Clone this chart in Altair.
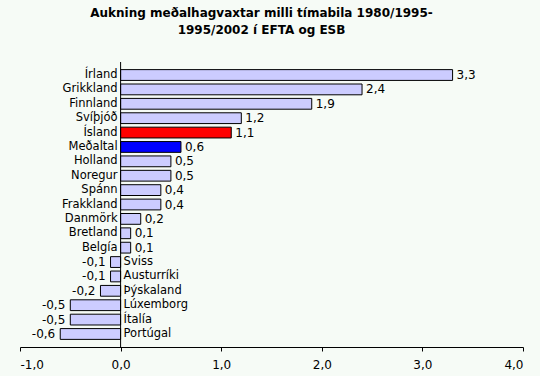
import altair as alt
import pandas as pd

lands = ["Írland", "Grikkland", "Finnland", "Svíþjóð", "Ísland", "Meðaltal",
         "Holland", "Noregur", "Spánn", "Frakkland", "Danmörk", "Bretland",
         "Belgía", "Sviss", "Austurríki", "Þýskaland", "Lúxemborg", "Ítalía",
         "Portúgal"]
values = [3.3, 2.4, 1.9, 1.2, 1.1, 0.6, 0.5, 0.5, 0.4, 0.4, 0.2, 0.1, 0.1,
          -0.1, -0.1, -0.2, -0.5, -0.5, -0.6]
x_ticks = [-1, 0, 1, 2, 3, 4]
title_lines = ["Aukning meðalhagvaxtar milli tímabila 1980/1995-",
               "1995/2002 í EFTA og ESB"]

df = pd.DataFrame({"land": lands, "gildi": values})
df["merki"] = [f"{v:.1f}".replace(".", ",") for v in values]

FONT = "DejaVu Sans"

base = alt.Chart(df).transform_calculate(
    grp="datum.land == 'Ísland' ? 'is' : (datum.land == 'Meðaltal' ? 'avg' : 'other')"
)

y_enc = alt.Y("land:N", sort=lands, axis=None,
              scale=alt.Scale(paddingInner=0.25, paddingOuter=0.53))
x_scale = alt.Scale(domain=[-1, 4], nice=False)

bars = base.mark_bar(stroke="black", strokeWidth=1).encode(
    x=alt.X("gildi:Q", scale=x_scale,
            axis=alt.Axis(values=x_ticks, title=None, grid=False,
                          domainColor="black", tickColor="black", tickSize=4,
                          labelColor="black", labelFont=FONT, labelFontSize=12,
                          labelPadding=8,
                          labelExpr="replace(replace(format(datum.value, '.1f'), '.', ','), '−', '-')")),
    x2=alt.datum(0),
    y=y_enc,
    color=alt.Color("grp:N", legend=None,
                    scale=alt.Scale(domain=["is", "avg", "other"],
                                    range=["#FF0000", "#0000FF", "#CCCCFF"])),
)

zero_rule = alt.Chart(df).mark_rule(color="black", strokeWidth=1).encode(
    x=alt.X("z:Q", scale=x_scale)
).transform_aggregate(n="count()").transform_calculate(z="0")

txt_name = dict(font=FONT, fontSize=11.5, color="black", baseline="middle")
txt_num = dict(font=FONT, fontSize=12, color="black", baseline="middle")

cat_pos = base.transform_filter("datum.gildi >= 0").mark_text(
    align="right", dx=-3, **txt_name).encode(
    x=alt.datum(0), y=y_enc, text="land:N")
cat_neg = base.transform_filter("datum.gildi < 0").mark_text(
    align="left", dx=3, **txt_name).encode(
    x=alt.datum(0), y=y_enc, text="land:N")
val_pos = base.transform_filter("datum.gildi >= 0").mark_text(
    align="left", dx=4, **txt_num).encode(
    x=alt.X("gildi:Q"), y=y_enc, text="merki:N")
val_neg = base.transform_filter("datum.gildi < 0").mark_text(
    align="right", dx=-5, **txt_num).encode(
    x=alt.X("gildi:Q"), y=y_enc, text="merki:N")

chart = alt.layer(bars, zero_rule, cat_pos, cat_neg, val_pos, val_neg).properties(
    width=503, height=285,
    title=alt.TitleParams(text=title_lines, font=FONT, fontSize=12,
                          fontWeight="bold", color="black", anchor="middle",
                          offset=25, dx=-10, lineHeight=17),
    autosize=alt.AutoSizeParams(type="none"),
    padding={"left": 20, "top": 62, "right": 17, "bottom": 29},
    background="#F6FBF6",
).configure_view(stroke=None)

chart.save("out.html", embed_options={"renderer": "svg", "actions": False})
